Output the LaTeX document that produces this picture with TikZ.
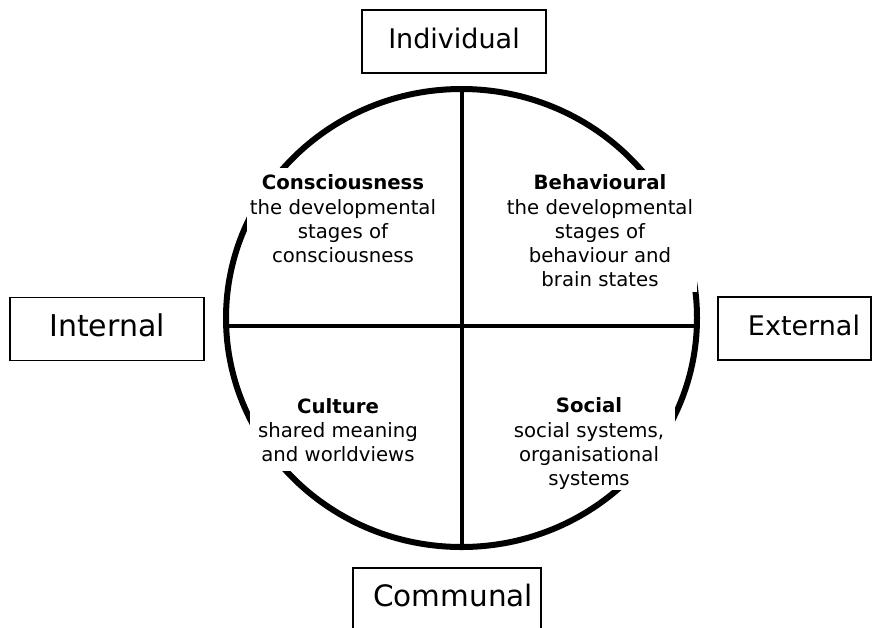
\documentclass[tikz,border=0pt]{standalone}
\usepackage{fontspec}
\setmainfont{DejaVu Sans}
\usetikzlibrary{shapes.geometric}

\begin{document}
\begin{tikzpicture}[x=1pt, y=-1pt,
  wheel/.style={ellipse, draw, line width=6pt, inner sep=0pt, outer sep=0pt,
    minimum width=471pt, minimum height=458pt},
  axis/.style={line width=4pt},
  quadrant/.style={fill=white, align=center, inner sep=0pt,
    font=\fontsize{19.7}{24.3}\selectfont},
  tag/.style={draw, line width=1.2pt, fill=white, inner sep=0pt,
    minimum height=63pt, text height=21pt, text depth=7pt,
    font=\fontsize{27}{32}\selectfont}
]
\useasboundingbox (0,0) rectangle (880,627);

% the four-quadrant wheel
\node[wheel] (wheel) at (461.5,318) {};
\draw[axis] (wheel.north) -- (wheel.south);
\draw[axis] (wheel.182) -- (wheel.358);

% quadrant texts (their white backgrounds mask the rim)
\node[quadrant, minimum width=192pt, minimum height=102pt] (consc) at (343,219)
  {\textbf{Consciousness}\\the developmental\\stages of\\consciousness};
\node[quadrant, minimum width=194pt, minimum height=122pt] (behav) at (600,231)
  {\textbf{Behavioural}\\the developmental\\stages of\\behaviour and\\brain states};
\node[quadrant, minimum width=176pt, minimum height=82pt] (cult) at (338,430)
  {\textbf{Culture}\\shared meaning\\and worldviews};
\node[quadrant, minimum width=172pt, minimum height=88pt] (soc) at (589,444)
  {\textbf{Social}\\social systems,\\organisational\\systems};

% axis labels
\node[tag, minimum width=184pt] (indiv) at (454,41.5) {Individual};
\node[tag, minimum width=194pt, font=\fontsize{30}{36}\selectfont] (intern) at (107,329) {Internal};
\node[tag, minimum width=153pt, text width=131pt, align=right] (extern) at (794.5,328.5) {External};
\node[tag, minimum width=188pt, text width=172pt, align=right,
  font=\fontsize{29.5}{35}\selectfont] (commun) at (447,599.5) {Communal};
\end{tikzpicture}
\end{document}
